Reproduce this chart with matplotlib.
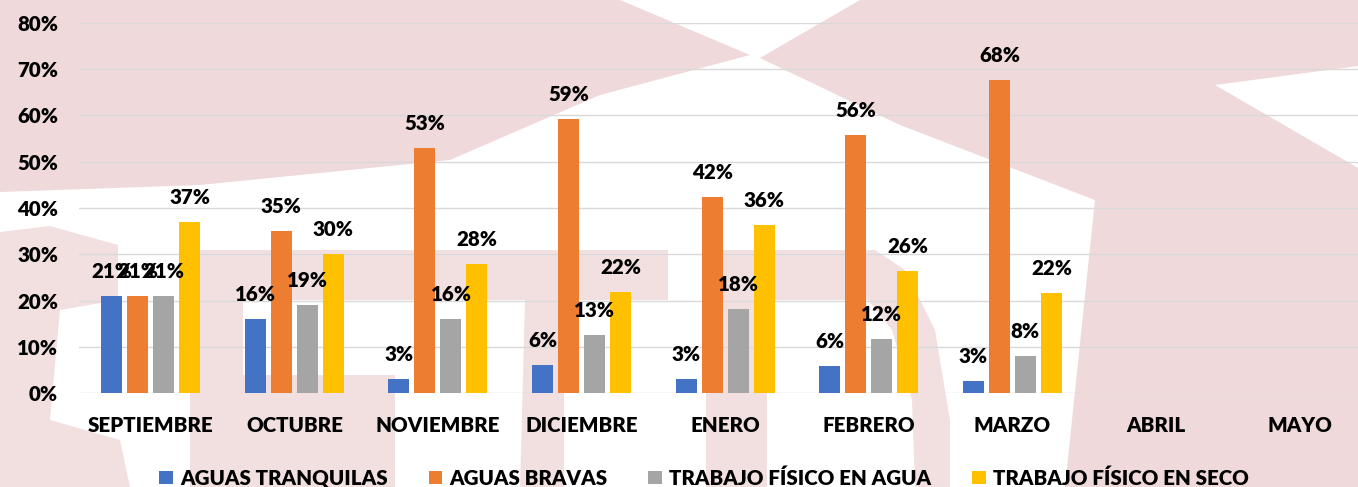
import matplotlib
matplotlib.use("Agg")
import matplotlib.pyplot as plt
from matplotlib.patches import Polygon
import numpy as np

months = ["SEPTIEMBRE", "OCTUBRE", "NOVIEMBRE", "DICIEMBRE", "ENERO",
          "FEBRERO", "MARZO", "ABRIL", "MAYO"]
series_names = ["AGUAS TRANQUILAS", "AGUAS BRAVAS",
                "TRABAJO FÍSICO EN AGUA", "TRABAJO FÍSICO EN SECO"]
aguas_tranquilas = [21, 16, 3.1, 6.2, 3.0, 5.8, 2.7]
aguas_bravas = [21, 35, 53, 59.3, 42.4, 55.8, 67.6]
trabajo_agua = [21, 19, 16, 12.6, 18.1, 11.7, 8.1]
trabajo_seco = [37, 30, 27.9, 21.8, 36.3, 26.4, 21.6]
yticks = [0, 10, 20, 30, 40, 50, 60, 70, 80]

colors = ["#4472C4", "#ED7D31", "#A5A5A5", "#FFC000"]
FONT = "Lato"
FW = 800
FS = 14.8

W, H = 1358, 487
fig = plt.figure(figsize=(W / 100, H / 100), dpi=100)
fig.patch.set_facecolor("white")

# faint watermark in background (figure pixel coords, y down)
def px(pts):
    return [(x / W, 1 - y / H) for x, y in pts]
top_shapes = [
    [(0, 0), (620, 0), (750, 55), (600, 95), (450, 160), (200, 185), (0, 192)],
    [(760, 58), (860, 0), (1358, 0), (1358, 66), (1215, 85), (1358, 168),
     (1358, 487), (1065, 487), (1095, 200), (900, 125)],
]
low_shapes = [
    [(190, 250), (668, 250), (668, 300), (190, 300)],
    [(190, 300), (243, 300), (243, 375), (395, 375), (395, 487), (190, 487)],
    [(525, 300), (564, 300), (564, 487), (520, 487)],
    [(706, 250), (875, 250), (905, 270), (935, 330), (950, 420), (950, 487),
     (915, 487), (912, 400), (892, 330), (868, 300), (767, 300), (767, 487),
     (706, 487)],
    [(0, 232), (50, 226), (118, 245), (118, 300), (60, 310), (50, 420),
     (120, 440), (130, 487), (0, 487)],
]
for s in top_shapes:
    fig.add_artist(Polygon(px(s), closed=True, transform=fig.transFigure,
                           facecolor="#efd9db", edgecolor="none", zorder=-10))
for s in low_shapes:
    fig.add_artist(Polygon(px(s), closed=True, transform=fig.transFigure,
                           facecolor="#f2e0e1", edgecolor="none", zorder=-10))

left = 79 / W
bottom = (H - 393.3) / H
height = (393.3 - 22.7) / H
width = (W - 79) / W
ax = fig.add_axes([left, bottom, width, height])
ax.patch.set_alpha(0)

data = [aguas_tranquilas, aguas_bravas, trabajo_agua, trabajo_seco]
x = np.arange(len(months))
pitch = 26 / 143.6
bw = 21 / 143.6
for i, (vals, c, name) in enumerate(zip(data, colors, series_names)):
    xs = x[:len(vals)] + (i - 1.5) * pitch
    bars = ax.bar(xs, vals, width=bw, color=c, label=name, zorder=3)
    for b, v in zip(bars, vals):
        ax.annotate(f"{v:.0f}%", (b.get_x() + b.get_width() / 2, v),
                    xytext=(0, 13), textcoords="offset points",
                    ha="center", va="baseline", fontsize=FS,
                    fontweight=FW, family=FONT, color="black", zorder=5)

ax.set_xlim(-0.5, -0.5 + (W - 79) / 143.6)
ax.set_ylim(0, 80)
ax.set_yticks(yticks)
ax.set_yticklabels([f"{t}%" for t in yticks])
ax.set_xticks(x)
ax.set_xticklabels(months)
for sp in ax.spines.values():
    sp.set_visible(False)
ax.grid(axis="y", color="#d9d9d9", linewidth=1.0, zorder=0)
ax.set_axisbelow(True)
ax.tick_params(axis="both", length=0)
ax.tick_params(axis="y", pad=15)
ax.tick_params(axis="x", pad=16)
for lab in ax.get_xticklabels() + ax.get_yticklabels():
    lab.set_fontsize(FS)
    lab.set_fontweight(FW)
    lab.set_family(FONT)

handles, labels = ax.get_legend_handles_labels()
leg = fig.legend(handles, labels, loc="center", ncol=4,
                 bbox_to_anchor=(704 / W, 1 - 478 / H), frameon=False,
                 prop={"family": FONT, "weight": FW, "size": FS},
                 handlelength=0.65, handleheight=0.65, handletextpad=0.35,
                 columnspacing=2.0, borderpad=0)

fig.savefig("out.png", dpi=100, facecolor="white")
